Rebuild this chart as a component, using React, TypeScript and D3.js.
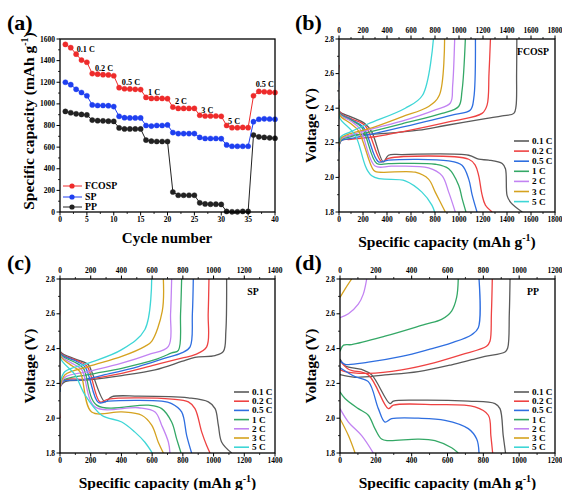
import React from "react";
import * as d3 from "d3";

const W = 562;
const H = 490;
const FONT = "'Liberation Serif', 'Times New Roman', serif";

// (a) rate performance
const cycles = [
  1, 2, 3, 4, 5, 6, 7, 8, 9, 10, 11, 12, 13, 14, 15, 16, 17, 18, 19, 20,
  21, 22, 23, 24, 25, 26, 27, 28, 29, 30, 31, 32, 33, 34, 35, 36, 37, 38, 39, 40,
];
const fcospCap = [
  1550, 1520, 1460, 1405, 1385, 1280, 1275, 1270, 1268, 1260,
  1150, 1140, 1138, 1135, 1132, 1060, 1050, 1050, 1050, 1048,
  970, 958, 958, 958, 958, 895, 888, 888, 888, 885,
  800, 780, 780, 782, 780, 1075, 1115, 1112, 1108, 1105,
];
const spCap = [
  1200, 1178, 1135, 1105, 1075, 990, 985, 985, 983, 975,
  885, 872, 870, 870, 870, 800, 795, 800, 800, 805,
  735, 725, 725, 725, 725, 690, 680, 680, 680, 678,
  620, 608, 608, 608, 608, 835, 858, 862, 860, 858,
];
const ppCap = [
  930, 918, 908, 902, 898, 850, 845, 843, 840, 838,
  778, 768, 768, 768, 768, 665, 655, 652, 652, 652,
  185, 155, 155, 155, 155, 85, 75, 72, 72, 70,
  5, 2, 2, 5, 5, 712, 695, 690, 686, 682,
];
const sampleNames = ["FCOSP", "SP", "PP"];
const noteLabels = ["0.1 C", "0.2 C", "0.5 C", "1 C", "2 C", "3 C", "5 C", "0.5 C"];
const noteCycle = [4.8, 8.2, 13.2, 17.5, 22.5, 27.4, 32.4, 38.1];
const noteCap = [1508, 1335, 1206, 1114, 1022, 945, 846, 1184];

// (b)-(d) charge / discharge profiles, [capacity, voltage]
const rates = ["0.1 C", "0.2 C", "0.5 C", "1 C", "2 C", "3 C", "5 C"];
const rateColors = ["#5a5a5a", "#ee4242", "#2e6ee0", "#34a866", "#c283f2", "#d5a21f", "#3ed6d6"];

const fcospCharge = [
  [[0, 2.18], [20, 2.22], [106, 2.244], [245, 2.248], [384, 2.254], [663, 2.273], [886, 2.3], [1220, 2.34], [1360, 2.356], [1457, 2.37], [1475, 2.41], [1480, 2.6], [1482, 2.8]],
  [[0, 2.0], [15, 2.21], [100, 2.22], [300, 2.235], [524, 2.263], [941, 2.325], [1192, 2.37], [1234, 2.418], [1250, 2.6], [1262, 2.8]],
  [[0, 2.15], [15, 2.21], [100, 2.225], [300, 2.255], [524, 2.29], [941, 2.36], [1095, 2.39], [1123, 2.457], [1137, 2.8]],
  [[0, 2.16], [15, 2.215], [100, 2.235], [300, 2.27], [524, 2.31], [858, 2.37], [997, 2.41], [1025, 2.5], [1053, 2.8]],
  [[0, 2.17], [15, 2.22], [100, 2.245], [300, 2.285], [524, 2.325], [802, 2.39], [928, 2.43], [947, 2.53], [964, 2.8]],
  [[0, 2.18], [15, 2.225], [100, 2.255], [245, 2.28], [524, 2.35], [747, 2.41], [836, 2.475], [880, 2.8]],
  [[0, 2.2], [15, 2.235], [100, 2.265], [245, 2.31], [552, 2.4], [696, 2.475], [787, 2.8]],
];
const fcospDischarge = [
  [[0, 2.42], [5, 2.38], [100, 2.35], [217, 2.31], [273, 2.263], [370, 2.09], [412, 2.128], [524, 2.132], [1081, 2.128], [1164, 2.105], [1248, 2.1], [1360, 2.08], [1387, 2.05], [1401, 1.895], [1430, 1.856], [1527, 1.8]],
  [[0, 2.65], [5, 2.38], [100, 2.34], [217, 2.3], [356, 2.09], [412, 2.11], [1081, 2.105], [1136, 2.07], [1164, 2.01], [1192, 1.9], [1220, 1.84], [1276, 1.8]],
  [[0, 2.55], [5, 2.375], [100, 2.335], [203, 2.29], [329, 2.09], [412, 2.1], [914, 2.095], [1025, 2.07], [1081, 1.99], [1109, 1.9], [1150, 1.8]],
  [[0, 2.45], [5, 2.37], [100, 2.33], [189, 2.29], [315, 2.08], [412, 2.08], [802, 2.076], [914, 2.05], [997, 1.955], [1025, 1.88], [1058, 1.8]],
  [[0, 2.44], [5, 2.365], [100, 2.325], [175, 2.28], [301, 2.066], [440, 2.065], [746, 2.055], [858, 2.01], [914, 1.915], [969, 1.8]],
  [[0, 2.42], [5, 2.36], [100, 2.31], [161, 2.27], [273, 2.06], [301, 2.035], [635, 2.03], [746, 1.99], [802, 1.915], [886, 1.8]],
  [[0, 2.4], [5, 2.345], [134, 2.245], [273, 2.01], [552, 1.98], [691, 1.915], [774, 1.84], [797, 1.8]],
];

const spCharge = [
  [[0, 2.18], [33, 2.21], [185, 2.22], [402, 2.245], [619, 2.278], [792, 2.326], [879, 2.35], [1010, 2.36], [1064, 2.384], [1080, 2.5], [1085, 2.8]],
  [[0, 2.0], [15, 2.21], [185, 2.225], [402, 2.258], [619, 2.307], [792, 2.345], [879, 2.365], [955, 2.41], [965, 2.6], [970, 2.8]],
  [[0, 2.15], [15, 2.21], [141, 2.22], [293, 2.25], [510, 2.297], [684, 2.345], [792, 2.375], [847, 2.41], [862, 2.6], [868, 2.8]],
  [[0, 2.16], [15, 2.215], [185, 2.25], [402, 2.287], [619, 2.336], [727, 2.375], [771, 2.39], [785, 2.6], [792, 2.8]],
  [[0, 2.17], [33, 2.235], [185, 2.268], [402, 2.316], [575, 2.365], [706, 2.413], [720, 2.6], [727, 2.8]],
  [[0, 2.18], [33, 2.25], [185, 2.297], [402, 2.355], [553, 2.413], [597, 2.442], [666, 2.616], [673, 2.8]],
  [[0, 2.2], [33, 2.268], [185, 2.316], [402, 2.394], [553, 2.51], [597, 2.8]],
];
const spDischarge = [
  [[0, 2.42], [5, 2.38], [100, 2.34], [185, 2.307], [206, 2.268], [293, 2.094], [336, 2.123], [510, 2.127], [836, 2.117], [966, 2.094], [1010, 2.055], [1031, 1.96], [1053, 1.862], [1118, 1.8]],
  [[0, 2.62], [5, 2.375], [100, 2.335], [175, 2.3], [260, 2.094], [315, 2.11], [727, 2.11], [836, 2.094], [879, 2.055], [923, 1.92], [955, 1.843], [977, 1.8]],
  [[0, 2.45], [5, 2.37], [100, 2.33], [163, 2.295], [250, 2.09], [315, 2.098], [662, 2.098], [727, 2.084], [792, 2.036], [825, 1.9], [857, 1.8]],
  [[0, 2.44], [5, 2.365], [100, 2.32], [152, 2.287], [239, 2.075], [575, 2.075], [662, 2.055], [727, 1.978], [760, 1.88], [788, 1.8]],
  [[0, 2.43], [5, 2.36], [90, 2.31], [141, 2.28], [228, 2.065], [510, 2.06], [619, 2.036], [662, 1.96], [706, 1.862], [716, 1.8]],
  [[0, 2.42], [5, 2.355], [80, 2.3], [130, 2.268], [206, 2.036], [402, 2.036], [532, 2.017], [597, 1.96], [640, 1.862], [673, 1.8]],
  [[0, 2.4], [5, 2.34], [98, 2.249], [163, 2.133], [271, 2.017], [402, 1.978], [488, 1.92], [553, 1.862], [601, 1.8]],
];

const ppCharge = [
  [[0, 2.25], [84, 2.235], [251, 2.249], [437, 2.268], [623, 2.307], [735, 2.336], [809, 2.355], [921, 2.38], [936, 2.403], [945, 2.6], [949, 2.8]],
  [[0, 2.28], [28, 2.268], [158, 2.258], [344, 2.278], [530, 2.32], [679, 2.365], [818, 2.413], [837, 2.442], [845, 2.6], [850, 2.8]],
  [[0, 2.33], [28, 2.31], [158, 2.322], [344, 2.355], [493, 2.394], [623, 2.433], [735, 2.48], [772, 2.52], [776, 2.8]],
  [[0, 2.384], [20, 2.42], [65, 2.423], [251, 2.471], [474, 2.539], [567, 2.568], [623, 2.616], [651, 2.694], [660, 2.8]],
  [[0, 2.578], [47, 2.6], [102, 2.655], [130, 2.713], [149, 2.8]],
  [[0, 2.694], [28, 2.742], [65, 2.8]],
  [],
];
const ppDischarge = [
  [[0, 2.34], [30, 2.3], [121, 2.28], [177, 2.249], [279, 2.084], [298, 2.098], [437, 2.104], [716, 2.098], [865, 2.084], [893, 2.055], [911, 1.9], [924, 1.8]],
  [[0, 2.33], [50, 2.28], [158, 2.249], [270, 2.055], [298, 2.075], [530, 2.078], [753, 2.065], [828, 2.017], [842, 1.9], [852, 1.8]],
  [[0, 2.29], [84, 2.239], [158, 2.21], [214, 2.055], [251, 1.978], [288, 1.997], [437, 2.0], [586, 1.988], [716, 1.94], [763, 1.88], [776, 1.8]],
  [[0, 2.152], [28, 2.113], [102, 2.055], [158, 2.017], [195, 1.94], [232, 1.88], [270, 1.871], [437, 1.88], [530, 1.871], [623, 1.83], [660, 1.8]],
  [[0, 2.055], [47, 1.978], [121, 1.9], [186, 1.8]],
  [[0, 1.997], [47, 1.9], [84, 1.8]],
  [],
];

const tickStyle = { fontFamily: FONT, fontWeight: 700, fontSize: 7.5 };
const titleStyle = { fontFamily: FONT, fontWeight: 700, fontSize: 15.5 };

function CapTitle({ x, y, rotate }: { x: number; y: number; rotate?: boolean }) {
  return (
    <text
      x={x}
      y={y}
      textAnchor="middle"
      transform={rotate ? `rotate(-90 ${x} ${y})` : undefined}
      style={titleStyle}
    >
      Specific capacity (mAh g
      <tspan dy={-6} fontSize={10}>-1</tspan>
      <tspan dy={6}>)</tspan>
    </text>
  );
}

function PanelTag({ x, y, t }: { x: number; y: number; t: string }) {
  return (
    <text x={x} y={y} style={{ fontFamily: FONT, fontWeight: 700, fontSize: 22 }}>
      {t}
    </text>
  );
}

function RatePanel() {
  const x0 = 60, x1 = 275, y0 = 39, y1 = 212;
  const x = d3.scaleLinear().domain([0, 40]).range([x0, x1]);
  const y = d3.scaleLinear().domain([0, 1600]).range([y1, y0]);
  const series = [
    { name: sampleNames[2], vals: ppCap, color: "#222222" },
    { name: sampleNames[1], vals: spCap, color: "#1f3ff0" },
    { name: sampleNames[0], vals: fcospCap, color: "#ee2b2b" },
  ];
  const line = d3
    .line<number>()
    .x((_, i) => x(cycles[i]))
    .y((d) => y(d));
  const xt = x.ticks(8);
  const yt = y.ticks(8);
  const legend = [series[2], series[1], series[0]];
  const legY = [186, 197, 207];
  return (
    <g>
      {series.map((s) => (
        <g key={s.name}>
          <path d={line(s.vals) || ""} fill="none" stroke={s.color} strokeWidth={1} />
          {s.vals.map((v, i) => (
            <circle key={i} cx={x(cycles[i])} cy={y(v)} r={2.6} fill={s.color} stroke={s.color} strokeWidth={0.4} />
          ))}
        </g>
      ))}
      <rect x={x0} y={y0} width={x1 - x0} height={y1 - y0} fill="none" stroke="#000" strokeWidth={1.3} />
      {xt.map((t) => (
        <g key={t}>
          <line x1={x(t)} x2={x(t)} y1={y1} y2={y1 + 3.5} stroke="#000" strokeWidth={1} />
          <text x={x(t)} y={y1 + 10} textAnchor="middle" style={tickStyle}>{t}</text>
        </g>
      ))}
      {xt.slice(1).map((t) => (
        <line key={"m" + t} x1={x(t - 2.5)} x2={x(t - 2.5)} y1={y1} y2={y1 + 2} stroke="#000" strokeWidth={0.8} />
      ))}
      {yt.map((t) => (
        <g key={t}>
          <line x1={x0 - 3.5} x2={x0} y1={y(t)} y2={y(t)} stroke="#000" strokeWidth={1} />
          <text x={x0 - 5} y={y(t) + 2.6} textAnchor="end" style={tickStyle}>{t}</text>
        </g>
      ))}
      {yt.slice(1).map((t) => (
        <line key={"m" + t} x1={x0 - 2} x2={x0} y1={y(t - 100)} y2={y(t - 100)} stroke="#000" strokeWidth={0.8} />
      ))}
      {noteLabels.map((n, i) => (
        <text key={i} x={x(noteCycle[i])} y={y(noteCap[i]) + 3} textAnchor="middle" style={{ ...tickStyle, fontSize: 8.2 }}>
          {n}
        </text>
      ))}
      {legend.map((s, i) => (
        <g key={s.name}>
          <line x1={x0 + 3} x2={x0 + 22} y1={legY[i]} y2={legY[i]} stroke={s.color} strokeWidth={1} />
          <circle cx={x0 + 12} cy={legY[i]} r={2.6} fill={s.color} />
          <text x={x0 + 25} y={legY[i] + 3.2} style={{ ...tickStyle, fontSize: 9.8 }}>{s.name}</text>
        </g>
      ))}
      <text x={167} y={243} textAnchor="middle" style={{ ...titleStyle, fontSize: 15 }}>Cycle number</text>
      <CapTitle x={34} y={121} rotate />
      <PanelTag x={7} y={30} t="(a)" />
    </g>
  );
}

interface VProps {
  x0: number; x1: number; y0: number; y1: number;
  xMax: number; sample: string; tag: string; id: string;
  charge: number[][][]; discharge: number[][][];
  legTop: number; legStep: number;
}

function VoltagePanel(p: VProps) {
  const { x0, x1, y0, y1 } = p;
  const x = d3.scaleLinear().domain([0, p.xMax]).range([x0, x1]);
  const y = d3.scaleLinear().domain([1.8, 2.8]).range([y1, y0]);
  const line = d3
    .line<number[]>()
    .x((d) => x(d[0]))
    .y((d) => y(d[1]))
    .curve(d3.curveCatmullRom.alpha(0.5));
  const xt = x.ticks(p.xMax / 200);
  const yt = y.ticks(5);
  const fmt = d3.format(".1f");
  const leftX = x0 <= 100 ? 0 : 281;
  return (
    <g>
      <clipPath id={p.id}>
        <rect x={x0} y={y0} width={x1 - x0} height={y1 - y0} />
      </clipPath>
      <g clipPath={`url(#${p.id})`}>
        {rates.map((r, i) => (
          <g key={r}>
            {p.discharge[i].length > 0 && (
              <path d={line(p.discharge[i]) || ""} fill="none" stroke={rateColors[i]} strokeWidth={1.3} />
            )}
            {p.charge[i].length > 0 && (
              <path d={line(p.charge[i]) || ""} fill="none" stroke={rateColors[i]} strokeWidth={1.3} />
            )}
          </g>
        ))}
      </g>
      <rect x={x0} y={y0} width={x1 - x0} height={y1 - y0} fill="none" stroke="#000" strokeWidth={1.3} />
      {xt.map((t) => (
        <g key={t}>
          <line x1={x(t)} x2={x(t)} y1={y1} y2={y1 + 3.5} stroke="#000" strokeWidth={1} />
          <line x1={x(t)} x2={x(t)} y1={y0} y2={y0 - 3.5} stroke="#000" strokeWidth={1} />
          <text x={x(t)} y={y1 + 10} textAnchor="middle" style={tickStyle}>{t}</text>
          <text x={x(t)} y={y0 - 6} textAnchor="middle" style={tickStyle}>{t}</text>
        </g>
      ))}
      {xt.slice(1).map((t) => (
        <g key={"m" + t}>
          <line x1={x(t - 100)} x2={x(t - 100)} y1={y1} y2={y1 + 2} stroke="#000" strokeWidth={0.8} />
          <line x1={x(t - 100)} x2={x(t - 100)} y1={y0} y2={y0 - 2} stroke="#000" strokeWidth={0.8} />
        </g>
      ))}
      {yt.map((t) => (
        <g key={t}>
          <line x1={x0 - 3.5} x2={x0} y1={y(t)} y2={y(t)} stroke="#000" strokeWidth={1} />
          <text x={x0 - 5} y={y(t) + 2.6} textAnchor="end" style={tickStyle}>{fmt(t)}</text>
        </g>
      ))}
      {yt.slice(1).map((t) => (
        <line key={"m" + t} x1={x0 - 2} x2={x0} y1={y(t - 0.1)} y2={y(t - 0.1)} stroke="#000" strokeWidth={0.8} />
      ))}
      <text x={x1 - 22} y={y0 + 16} textAnchor="middle" style={{ ...tickStyle, fontSize: 9.8 }}>{p.sample}</text>
      {rates.map((r, i) => {
        const ly = p.legTop + i * p.legStep;
        return (
          <g key={r}>
            <line x1={x1 - 41} x2={x1 - 26} y1={ly} y2={ly} stroke={rateColors[i]} strokeWidth={1.6} />
            <text x={x1 - 23} y={ly + 3} style={{ ...tickStyle, fontSize: 9.2 }}>{r}</text>
          </g>
        );
      })}
      <CapTitle x={(x0 + x1) / 2} y={y1 + 35} />
      <text
        x={leftX + 35}
        y={(y0 + y1) / 2}
        textAnchor="middle"
        transform={`rotate(-90 ${leftX + 35} ${(y0 + y1) / 2})`}
        style={titleStyle}
      >
        Voltage (V)
      </text>
      <PanelTag x={leftX + (leftX ? 14 : 7)} y={y0 - 9} t={p.tag} />
    </g>
  );
}

export default function App() {
  return (
    <svg
      width={W}
      height={H}
      style={{ position: "absolute", left: 0, top: 0, background: "#fff" }}
    >
      <rect width={W} height={H} fill="#fff" />
      <RatePanel />
      <VoltagePanel x0={339} x1={555} y0={39} y1={212} xMax={1800} sample="FCOSP" tag="(b)" id="clipB"
        charge={fcospCharge} discharge={fcospDischarge} legTop={141} legStep={10.1} />
      <VoltagePanel x0={60} x1={275} y0={279} y1={453} xMax={1400} sample="SP" tag="(c)" id="clipC"
        charge={spCharge} discharge={spDischarge} legTop={392} legStep={9.2} />
      <VoltagePanel x0={340} x1={555} y0={279} y1={453} xMax={1200} sample="PP" tag="(d)" id="clipD"
        charge={ppCharge} discharge={ppDischarge} legTop={392} legStep={9.2} />
    </svg>
  );
}
